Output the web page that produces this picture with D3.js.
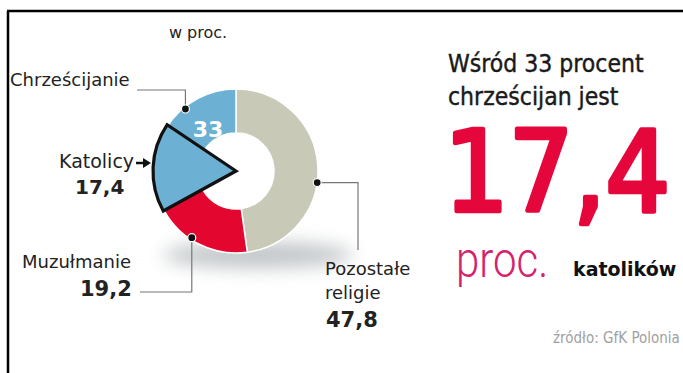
<!DOCTYPE html>
<html>
<head>
<meta charset="utf-8">
<script src="https://cdn.jsdelivr.net/npm/d3@7/dist/d3.min.js"></script>
<style>
  html, body { margin: 0; padding: 0; background: #fff; }
  svg { display: block; }
</style>
</head>
<body>
<svg id="chart" width="683" height="373"></svg>
<script>
// Religious structure, in percent
const categories = ["Pozostałe religie", "Muzułmanie", "Chrześcijanie"];
const shares = [47.8, 19.2, 33];
const catholicShare = 17.4;            // part of the Christian slice
const colors = ["#c8c9b7", "#e3072f", "#6cb0d3"];

const svg = d3.select("#chart");
const W = 683, H = 373;

// frame: top rule and left rule
svg.append("path")
  .attr("d", `M7,11 H${W} M8,11 V${H}`)
  .attr("fill", "none").attr("stroke", "#000").attr("stroke-width", 2.5);

const defs = svg.append("defs");
defs.append("filter").attr("id", "soft").attr("x", "-50%").attr("y", "-200%")
  .attr("width", "200%").attr("height", "500%")
  .append("feGaussianBlur").attr("stdDeviation", 9);

const cx = 236, cy = 171, rOuter = 82, rInner = 38;
const g = svg.append("g").attr("transform", `translate(${cx},${cy})`);

// soft shadow under the ring
g.append("ellipse")
  .attr("cx", 22).attr("cy", 84).attr("rx", 95).attr("ry", 13)
  .attr("fill", "#8f979b").attr("opacity", 0.55).attr("filter", "url(#soft)");

const pie = d3.pie().sort(null).value(d => d).startAngle(0).endAngle(2 * Math.PI);
const arcs = pie(shares);
const arc = d3.arc().innerRadius(rInner).outerRadius(rOuter);

g.selectAll("path.slice").data(arcs).join("path")
  .attr("class", "slice")
  .attr("d", arc)
  .attr("fill", (d, i) => colors[i])
  .attr("stroke", "#fff").attr("stroke-width", 1.5);

// Catholic wedge: a full pie slice inside the Christian part
const angle = d3.scaleLinear().domain([0, 100]).range([0, 2 * Math.PI]);
const chr = arcs[2];
const wedge = d3.arc().innerRadius(0).outerRadius(rOuter + 1);
g.append("path")
  .attr("d", wedge({ startAngle: chr.startAngle, endAngle: chr.startAngle + angle(catholicShare) }))
  .attr("fill", colors[2])
  .attr("stroke", "#111").attr("stroke-width", 3.2).attr("stroke-linejoin", "miter");

// value inside the Christian slice, in the part left of the wedge
const inLabel = d3.arc().innerRadius(54).outerRadius(54);
const p33 = inLabel.centroid({ startAngle: chr.endAngle - 0.5, endAngle: chr.endAngle - 0.5 });
g.append("text")
  .attr("x", p33[0] - 2).attr("y", p33[1] + 13)
  .attr("text-anchor", "middle")
  .attr("font-family", "DejaVu Sans").attr("font-weight", "bold").attr("font-size", 22)
  .attr("fill", "#fff").text(shares[2]);

// leader dots on the outer edge of each slice
function edgePoint(d, t, r) {
  const a = d.startAngle + (d.endAngle - d.startAngle) * t;
  return [cx + r * Math.sin(a), cy - r * Math.cos(a)];
}
const dotOther = edgePoint(arcs[0], 0.57, rOuter);
const dotMus = edgePoint(arcs[1], 0.6, rOuter - 2);
const dotChr = edgePoint(arcs[2], 0.67, rOuter - 2);

const leaders = svg.append("g").attr("fill", "none").attr("stroke", "#777").attr("stroke-width", 1.2);
leaders.append("path").attr("d", `M137,90 H${dotChr[0]} V${dotChr[1]}`);
leaders.append("path").attr("d", `M140,292 H${dotMus[0]} V${dotMus[1]}`);
leaders.append("path").attr("d", `M${dotOther[0]},${dotOther[1]} H358 V250`);

svg.selectAll("circle.dot").data([dotOther, dotMus, dotChr]).join("circle")
  .attr("class", "dot")
  .attr("cx", d => d[0]).attr("cy", d => d[1]).attr("r", 4)
  .attr("fill", "#111").attr("stroke", "#fff").attr("stroke-width", 1.2);

// arrow pointing at the Catholic wedge
svg.append("path").attr("d", "M136,163 H145").attr("stroke", "#111").attr("stroke-width", 2.5);
svg.append("path").attr("d", "M143,158 L151,163 L143,168 Z").attr("fill", "#111");

// text helper
function txt(x, y, s, opts = {}) {
  return svg.append("text")
    .attr("x", x).attr("y", y)
    .attr("font-family", opts.family || "DejaVu Sans")
    .attr("font-weight", opts.weight || "normal")
    .attr("font-size", opts.size || 18)
    .attr("fill", opts.fill || "#222")
    .attr("text-anchor", opts.anchor || "start")
    .text(s);
}

const fmt = v => String(v).replace(".", ",");

txt(198, 38, "w proc.", { size: 16, anchor: "middle" });

txt(10, 86, "Chrześcijanie", { size: 18 });
txt(59, 168, "Katolicy", { size: 19 });
txt(75, 194, fmt(catholicShare), { size: 20, weight: "bold" });
txt(22, 268, "Muzułmanie", { size: 18 });
txt(80, 296, fmt(shares[1]), { size: 21, weight: "bold" });
txt(325, 275, "Pozostałe", { size: 18 });
txt(325, 299, "religie", { size: 18 });
txt(326, 327, fmt(shares[0]), { size: 21, weight: "bold" });

// right-hand highlight
txt(448, 72, "Wśród " + shares[2] + " procent", { size: 24.5, family: "DejaVu Sans Condensed", fill: "#1a1a1a" })
  .attr("stroke", "#1a1a1a").attr("stroke-width", 0.4);
txt(448, 105, "chrześcijan jest", { size: 24.5, family: "DejaVu Sans Condensed", fill: "#1a1a1a" })
  .attr("stroke", "#1a1a1a").attr("stroke-width", 0.4);

txt(444, 211, fmt(catholicShare), { size: 113, family: "DejaVu Sans Condensed", fill: "#e5063c" })
  .attr("stroke", "#e5063c").attr("stroke-width", 4.5).attr("stroke-linejoin", "round");

txt(0, 0, "proc.", { size: 50, family: "Roboto", weight: 300, fill: "#d4236c" })
  .attr("transform", "translate(456,277) scale(0.84,1)");
txt(573, 276, "katolików", { size: 19, weight: "bold", fill: "#111" });

txt(553, 343, "źródło: GfK Polonia", { size: 15, family: "DejaVu Sans Condensed", fill: "#a0a0a0" })
  .attr("font-weight", 300);
</script>
</body>
</html>
